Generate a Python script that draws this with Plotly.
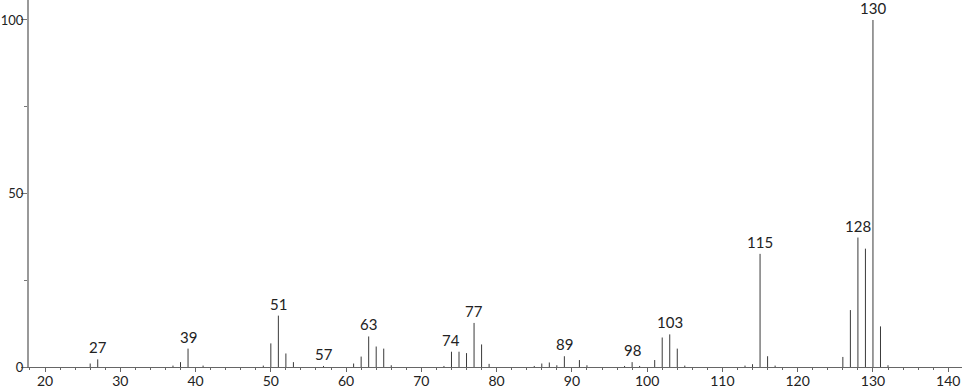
import plotly.graph_objects as go

# m/z values and relative intensities
mz = [26, 27, 37, 38, 39, 41, 49, 50, 51, 52, 53, 57,
      61, 62, 63, 64, 65, 66, 73, 74, 75, 76, 77, 78, 79,
      85, 86, 87, 88, 89, 91, 92, 97, 98, 99, 101, 102, 103, 104, 105,
      113, 114, 115, 116, 117, 126, 127, 128, 129, 130, 131, 132]
intensity = [1.0, 2.2, 0.4, 1.4, 5.3, 0.4, 0.4, 6.8, 14.8, 3.9, 1.4, 0.3,
             1.0, 3.0, 8.8, 5.9, 5.3, 0.5, 0.3, 4.4, 4.4, 4.0, 12.7, 6.5, 0.9,
             0.3, 1.0, 1.3, 0.5, 3.1, 2.0, 0.5, 0.3, 1.4, 0.3, 2.0, 8.5, 9.4, 5.3, 0.4,
             0.4, 0.8, 32.6, 3.1, 0.4, 2.9, 16.4, 37.3, 34.1, 100.0, 11.7, 0.5]
labeled_mz = [27, 39, 51, 57, 63, 74, 77, 89, 98, 103, 115, 128, 130]

xs, ys = [], []
for m, v in zip(mz, intensity):
    xs += [m, m, None]
    ys += [0, v, None]

FONT = "Lato, 'Open Sans', sans-serif"

fig = go.Figure()
fig.add_trace(go.Scatter(x=xs, y=ys, mode="lines",
                         line=dict(color="#3a3a3a", width=1),
                         hoverinfo="skip", showlegend=False))

lookup = dict(zip(mz, intensity))
for m in labeled_mz:
    fig.add_annotation(x=m, y=lookup[m], text=str(m), showarrow=False,
                       xanchor="center", yanchor="bottom", yshift=1,
                       font=dict(family=FONT, size=15, color="#222"))

fig.update_layout(
    width=966, height=389,
    margin=dict(l=29, r=4, t=0, b=22),
    paper_bgcolor="white", plot_bgcolor="white",
    font=dict(family=FONT, size=14, color="#222"),
)
fig.update_xaxes(range=[17.87, 141.83], showgrid=False, zeroline=False, automargin=False,
                 showline=True, linecolor="#666", linewidth=1,
                 tickmode="linear", tick0=0, dtick=10,
                 ticks="outside", ticklen=4, tickcolor="#666", ticklabelstandoff=-3,
                 minor=dict(dtick=2, tick0=0, ticks="outside", ticklen=2, tickcolor="#666"),
                 tickfont=dict(family=FONT, size=14, color="#222"))
fig.update_yaxes(range=[0, 105.76], showgrid=False, zeroline=False, automargin=False,
                 showline=True, linecolor="#999", linewidth=2,
                 tickmode="array", tickvals=[0, 50, 100], ticktext=["0", "50", "100"],
                 ticks="outside", ticklen=6, tickcolor="#777", ticklabelstandoff=-5,
                 minor=dict(tickvals=[25, 75], ticks="outside", ticklen=3, tickcolor="#777"),
                 tickfont=dict(family=FONT, size=13, color="#222"))

fig.write_html("out.html")
